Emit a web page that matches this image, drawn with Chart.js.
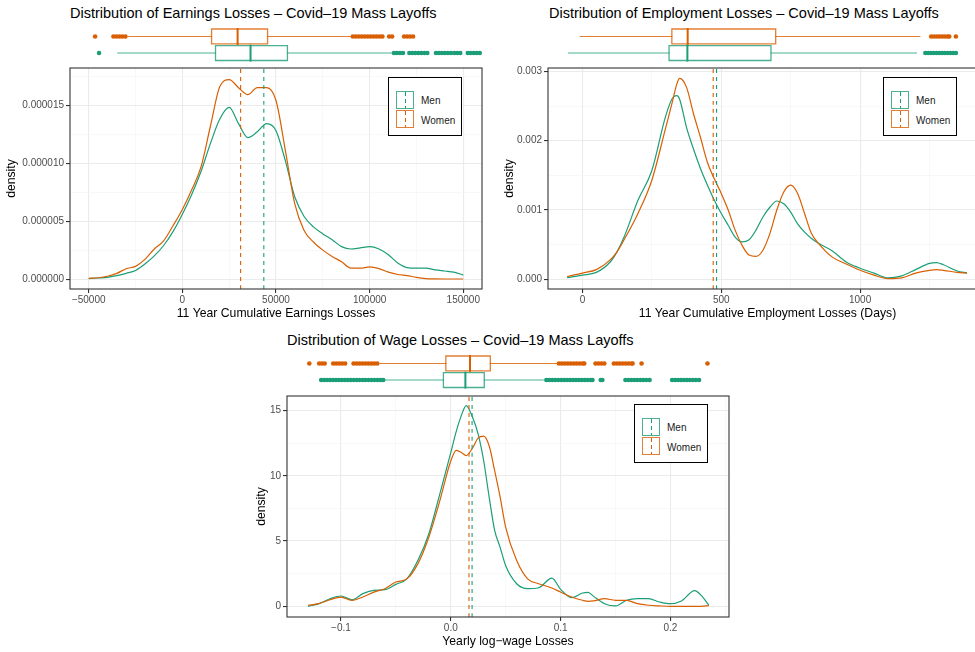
<!DOCTYPE html>
<html>
<head>
<meta charset="utf-8">
<script src="https://cdn.jsdelivr.net/npm/chart.js@4.4.1/dist/chart.umd.min.js"></script>
<style>
html, body { margin: 0; padding: 0; overflow: hidden; background: #fff; }
#page { position: relative; width: 975px; height: 652px; overflow: hidden; font-family: "Liberation Sans", Arial, sans-serif; }
canvas { position: absolute; }
.title { position: absolute; font-size: 14.5px; line-height: 17px; color: #000; white-space: nowrap; }
.legend { position: absolute; box-sizing: border-box; width: 74px; height: 59px; border: 1px solid #000; background: #fff; }
.key { position: absolute; left: 7px; box-sizing: border-box; width: 18px; height: 18px; border: 1px solid; }
.key .dash { position: absolute; left: 7.5px; top: 0; width: 1px; height: 16px; }
.lab { position: absolute; left: 32px; font-size: 10px; line-height: 12px; color: #1a1a1a; }
</style>
</head>
<body>
<div id="page">
  <div class="title" style="left:70px;top:4.5px">Distribution of Earnings Losses – Covid–19 Mass Layoffs</div>
  <div class="title" style="left:549px;top:4.5px">Distribution of Employment Losses – Covid–19 Mass Layoffs</div>
  <div class="title" style="left:287px;top:331.5px">Distribution of Wage Losses – Covid–19 Mass Layoffs</div>

  <canvas id="box1" width="490" height="47" style="left:0px;top:20px"></canvas>
  <canvas id="dens1" width="490" height="262" style="left:0px;top:60px"></canvas>
  <canvas id="box2" width="510" height="47" style="left:490px;top:20px"></canvas>
  <canvas id="dens2" width="510" height="262" style="left:490px;top:60px"></canvas>
  <canvas id="box3" width="490" height="47" style="left:250px;top:347px"></canvas>
  <canvas id="dens3" width="490" height="262" style="left:250px;top:388px"></canvas>

  <div class="legend" style="left:388px;top:77px">
    <div class="key" style="top:13px;border-color:rgba(27,158,119,0.8)"><div class="dash" style="background:repeating-linear-gradient(to bottom,#1B9E77 0 4px,transparent 4px 7px)"></div></div>
    <div class="lab" style="top:16.7px">Men</div>
    <div class="key" style="top:32px;border-color:rgba(217,95,2,0.8)"><div class="dash" style="background:repeating-linear-gradient(to bottom,#D95F02 0 4px,transparent 4px 7px)"></div></div>
    <div class="lab" style="top:36.7px">Women</div>
  </div>
  <div class="legend" style="left:883px;top:77px">
    <div class="key" style="top:13px;border-color:rgba(27,158,119,0.8)"><div class="dash" style="background:repeating-linear-gradient(to bottom,#1B9E77 0 4px,transparent 4px 7px)"></div></div>
    <div class="lab" style="top:16.7px">Men</div>
    <div class="key" style="top:32px;border-color:rgba(217,95,2,0.8)"><div class="dash" style="background:repeating-linear-gradient(to bottom,#D95F02 0 4px,transparent 4px 7px)"></div></div>
    <div class="lab" style="top:36.7px">Women</div>
  </div>
  <div class="legend" style="left:634px;top:404px">
    <div class="key" style="top:13px;border-color:rgba(27,158,119,0.8)"><div class="dash" style="background:repeating-linear-gradient(to bottom,#1B9E77 0 4px,transparent 4px 7px)"></div></div>
    <div class="lab" style="top:16.7px">Men</div>
    <div class="key" style="top:32px;border-color:rgba(217,95,2,0.8)"><div class="dash" style="background:repeating-linear-gradient(to bottom,#D95F02 0 4px,transparent 4px 7px)"></div></div>
    <div class="lab" style="top:36.7px">Women</div>
  </div>
</div>

<script>
// Farver (Dark2)
var GREEN = '#1B9E77', ORANGE = '#D95F02';
var GREEN_A = 'rgba(27,158,119,0.8)', ORANGE_A = 'rgba(217,95,2,0.8)';

// --- Earnings losses ---
var earnX = [-50000, -45000, -40000, -35000, -30000, -25000, -20000, -15000, -10000, -5000, 0, 5000, 10000, 15000, 20000, 25000, 30000, 35000, 40000, 45000, 50000, 55000, 60000, 65000, 70000, 75000, 80000, 85000, 90000, 95000, 100000, 105000, 110000, 115000, 120000, 125000, 130000, 135000, 140000, 145000, 150000];
var earnMen = [0.05e-6, 0.1e-6, 0.15e-6, 0.3e-6, 0.5e-6, 0.75e-6, 1.3e-6, 2.0e-6, 2.9e-6, 4.1e-6, 5.6e-6, 7.3e-6, 9.3e-6, 11.7e-6, 13.8e-6, 14.8e-6, 13.4e-6, 12.2e-6, 12.7e-6, 13.4e-6, 12.8e-6, 10.2e-6, 7.1e-6, 5.4e-6, 4.5e-6, 3.9e-6, 3.4e-6, 2.8e-6, 2.6e-6, 2.7e-6, 2.8e-6, 2.6e-6, 2.1e-6, 1.4e-6, 1.0e-6, 0.95e-6, 0.95e-6, 0.8e-6, 0.7e-6, 0.6e-6, 0.35e-6];
var earnWomen = [0.07e-6, 0.12e-6, 0.25e-6, 0.5e-6, 0.9e-6, 1.1e-6, 1.7e-6, 2.6e-6, 3.3e-6, 4.6e-6, 6.0e-6, 7.7e-6, 9.7e-6, 13.2e-6, 16.6e-6, 17.2e-6, 16.5e-6, 15.9e-6, 16.5e-6, 16.5e-6, 15.4e-6, 11.1e-6, 6.5e-6, 4.2e-6, 3.2e-6, 2.5e-6, 1.95e-6, 1.5e-6, 0.95e-6, 0.95e-6, 1.05e-6, 0.9e-6, 0.6e-6, 0.4e-6, 0.3e-6, 0.15e-6, 0.05e-6, 0.02e-6, 0.01e-6, 0.01e-6, 0.01e-6];
var earnMean = [43500, 31100]; // men, women
var earnBoxMen = [-34500, 17700, 36400, 56100, 112100]; // whisker lo, q1, median, q3, whisker hi
var earnBoxWomen = [-28700, 15600, 29500, 45500, 89700];
var earnOutMen = [-44500, 113000, 114600, 116200, 117800, 121200, 122800, 124400, 126000, 127600, 129200, 130800, 135400, 137000, 138600, 140200, 141800, 143400, 145200, 146800, 148400, 152400, 154000, 155600, 157200, 158800];
var earnOutWomen = [-46600, -36800, -35200, -33600, -32000, -30400, 91000, 92600, 94200, 95800, 97400, 99000, 100600, 102200, 103800, 105400, 106800, 110400, 112000, 118400, 120000, 121600, 123200];
var earnXTicks = [-50000, 0, 50000, 100000, 150000];
var earnXLabels = ['−50000', '0', '50000', '100000', '150000'];
var earnXMinor = [-25000, 25000, 75000, 125000];
var earnYTicks = [0, 5e-6, 10e-6, 15e-6];
var earnYLabels = ['0.000000', '0.000005', '0.000010', '0.000015'];
var earnYMinor = [2.5e-6, 7.5e-6, 12.5e-6, 17.5e-6];

// --- Employment losses ---
var empX = [-55, 0, 50, 100, 125, 150, 200, 250, 300, 325, 340, 350, 375, 400, 425, 450, 475, 500, 525, 550, 575, 600, 625, 650, 675, 700, 725, 750, 775, 800, 825, 850, 900, 950, 1000, 1050, 1100, 1150, 1200, 1250, 1275, 1300, 1350, 1385];
var empMen = [0.024e-3, 0.06e-3, 0.10e-3, 0.25e-3, 0.40e-3, 0.61e-3, 1.14e-3, 1.57e-3, 2.36e-3, 2.62e-3, 2.65e-3, 2.60e-3, 2.19e-3, 1.88e-3, 1.60e-3, 1.36e-3, 1.14e-3, 0.95e-3, 0.78e-3, 0.61e-3, 0.54e-3, 0.57e-3, 0.71e-3, 0.90e-3, 1.04e-3, 1.13e-3, 1.09e-3, 0.97e-3, 0.80e-3, 0.68e-3, 0.59e-3, 0.52e-3, 0.41e-3, 0.25e-3, 0.16e-3, 0.09e-3, 0.02e-3, 0.05e-3, 0.14e-3, 0.23e-3, 0.24e-3, 0.21e-3, 0.12e-3, 0.09e-3];
var empWomen = [0.04e-3, 0.09e-3, 0.14e-3, 0.28e-3, 0.40e-3, 0.57e-3, 0.95e-3, 1.43e-3, 2.19e-3, 2.58e-3, 2.82e-3, 2.90e-3, 2.77e-3, 2.39e-3, 2.05e-3, 1.69e-3, 1.45e-3, 1.24e-3, 1.0e-3, 0.71e-3, 0.49e-3, 0.35e-3, 0.33e-3, 0.42e-3, 0.66e-3, 1.0e-3, 1.26e-3, 1.36e-3, 1.24e-3, 0.95e-3, 0.66e-3, 0.52e-3, 0.32e-3, 0.22e-3, 0.13e-3, 0.06e-3, 0.01e-3, 0.02e-3, 0.09e-3, 0.13e-3, 0.14e-3, 0.13e-3, 0.10e-3, 0.09e-3];
var empMean = [483, 471];
var empBoxMen = [-50, 312, 378, 679, 1203];
var empBoxWomen = [-8, 322, 379, 696, 1215];
var empOutMen = [1235, 1245, 1255, 1265, 1275, 1285, 1295, 1305, 1315, 1325, 1335, 1345];
var empOutWomen = [1256, 1266, 1276, 1286, 1296, 1306, 1316, 1321, 1345];
var empXTicks = [0, 500, 1000];
var empXLabels = ['0', '500', '1000'];
var empXMinor = [250, 750, 1250];
var empYTicks = [0, 0.001, 0.002, 0.003];
var empYLabels = ['0.000', '0.001', '0.002', '0.003'];
var empYMinor = [0.0005, 0.0015, 0.0025];

// --- Wage losses ---
var wageX = [-0.13, -0.12, -0.11, -0.10, -0.09, -0.08, -0.07, -0.06, -0.05, -0.04, -0.03, -0.02, -0.01, 0, 0.005, 0.01, 0.014, 0.02, 0.025, 0.03, 0.035, 0.04, 0.045, 0.05, 0.06, 0.07, 0.08, 0.092, 0.10, 0.11, 0.12, 0.125, 0.13, 0.14, 0.15, 0.16, 0.17, 0.18, 0.19, 0.20, 0.21, 0.222, 0.228, 0.235];
var wageMen = [0, 0.2, 0.58, 0.79, 0.5, 0.97, 1.22, 1.27, 1.68, 2.1, 3.5, 5.54, 8.6, 11.77, 13.4, 14.7, 15.38, 14.44, 13.17, 11.13, 8.34, 5.8, 4.5, 3.1, 1.73, 1.35, 1.42, 2.16, 1.3, 0.66, 1.02, 1.07, 0.76, 0.2, 0.03, 0.46, 0.58, 0.58, 0.33, 0.2, 0.41, 1.2, 0.84, 0.08];
var wageWomen = [0.08, 0.2, 0.5, 0.71, 0.45, 0.71, 1.09, 1.35, 1.86, 2.1, 3.25, 5.29, 8.08, 11.13, 11.95, 11.77, 11.55, 12.15, 12.9, 13.04, 12.28, 10.37, 8.34, 6.05, 3.5, 2.1, 1.73, 1.4, 1.09, 0.71, 0.46, 0.38, 0.41, 0.58, 0.46, 0.46, 0.2, 0.08, 0.03, 0, 0, 0, 0, 0.05];
var wageMean = [0.0194, 0.0166];
var wageBoxMen = [-0.0597, -0.0067, 0.0133, 0.0305, 0.0842];
var wageBoxWomen = [-0.0643, -0.0045, 0.0175, 0.036, 0.0964];
var wageOutMen = [-0.118, -0.1153, -0.1126, -0.1099, -0.1072, -0.1045, -0.1018, -0.0991, -0.0964, -0.0937, -0.091, -0.0883, -0.0856, -0.0829, -0.0802, -0.0775, -0.0748, -0.0721, -0.0694, -0.0667, -0.064, -0.0615,
  0.087, 0.0897, 0.0924, 0.0951, 0.0978, 0.1005, 0.1032, 0.1059, 0.1086, 0.1113, 0.114, 0.1167, 0.1194, 0.1221, 0.1248, 0.1275, 0.129, 0.1365, 0.138,
  0.159, 0.1617, 0.1644, 0.1671, 0.1698, 0.1725, 0.1752, 0.1779, 0.181, 0.2015, 0.2042, 0.2069, 0.2096, 0.2123, 0.215, 0.2177, 0.2204, 0.2231, 0.226];
var wageOutWomen = [-0.1288, -0.1198, -0.1172, -0.1148, -0.107, -0.1043, -0.1016, -0.0989, -0.0962, -0.0885, -0.0858, -0.0831, -0.0804, -0.0777, -0.075, -0.0723, -0.0696, -0.0669,
  0.0985, 0.1012, 0.1039, 0.1066, 0.1093, 0.112, 0.1147, 0.1174, 0.1201, 0.1215, 0.1318, 0.1345, 0.1372, 0.1398,
  0.1485, 0.1512, 0.1539, 0.1566, 0.1593, 0.162, 0.1647, 0.1655, 0.1737, 0.2337];
var wageXTicks = [-0.1, 0, 0.1, 0.2];
var wageXLabels = ['−0.1', '0.0', '0.1', '0.2'];
var wageXMinor = [-0.05, 0.05, 0.15, 0.25];
var wageYTicks = [0, 5, 10, 15];
var wageYLabels = ['0', '5', '10', '15'];
var wageYMinor = [2.5, 7.5, 12.5];

Chart.defaults.font.family = '"Liberation Sans", Arial, sans-serif';

function pts(xs, ys) {
    return xs.map(function (x, i) { return { x: x, y: ys[i] }; });
}

// Egen liste af ticks: hovedticks med tekst, minor ticks kun som gitter
function ticksFrom(majors, labels, minors) {
    return function (scale) {
        var t = majors.map(function (v, i) { return { value: v, text: labels[i] }; })
            .concat(minors.map(function (v) { return { value: v, text: '', minor: true }; }));
        t.sort(function (a, b) { return a.value - b.value; });
        scale.ticks = t;
    };
}

function isMinor(c) { return c.tick && c.tick.minor; }

function axis(min, max, majors, labels, minors, title, size, titlePad, tickPad) {
    return {
        type: 'linear',
        min: min,
        max: max,
        afterBuildTicks: ticksFrom(majors, labels, minors),
        afterFit: function (s) { if (s.isHorizontal()) s.height = size; else s.width = size; },
        border: { display: false },
        grid: {
            color: function (c) { return isMinor(c) ? '#F3F3F3' : '#EBEBEB'; },
            lineWidth: function (c) { return isMinor(c) ? 0.6 : 1.1; },
            tickColor: function (c) { return isMinor(c) ? 'rgba(0,0,0,0)' : '#333333'; },
            tickLength: 4,
            tickWidth: 1.1
        },
        ticks: {
            autoSkip: false,
            maxRotation: 0,
            padding: tickPad,
            color: '#4D4D4D',
            font: { size: 10 },
            callback: function (v, i, t) { return t[i].text; }
        },
        title: { display: true, text: title, color: '#000', font: { size: 12.2 }, padding: titlePad }
    };
}

// Ramme om plotomraadet (theme_bw)
var frame = {
    id: 'frame',
    afterDraw: function (chart) {
        var a = chart.chartArea, g = chart.ctx;
        g.save();
        g.strokeStyle = '#333333';
        g.lineWidth = 1.1;
        g.strokeRect(a.left, a.top, a.right - a.left, a.bottom - a.top);
        g.restore();
    }
};

function densityChart(id, p) {
    var line = function (data, col, dash) {
        return {
            data: data, showLine: true, borderColor: col, borderWidth: dash ? 1.1 : 1.2,
            borderDash: dash ? [4, 4] : [], pointRadius: 0, cubicInterpolationMode: 'monotone', fill: false
        };
    };
    new Chart(document.getElementById(id), {
        type: 'scatter',
        data: {
            datasets: [
                line([{ x: p.mean[1], y: p.ymin }, { x: p.mean[1], y: p.ymax }], ORANGE, true),
                line([{ x: p.mean[0], y: p.ymin }, { x: p.mean[0], y: p.ymax }], GREEN, true),
                line(pts(p.xs, p.women), ORANGE, false),
                line(pts(p.xs, p.men), GREEN, false)
            ]
        },
        options: {
            responsive: false,
            animation: false,
            devicePixelRatio: 1,
            layout: { padding: { left: 0, right: p.padR, top: 7, bottom: 0 } },
            plugins: { legend: { display: false }, tooltip: { enabled: false } },
            scales: {
                x: axis(p.xmin, p.xmax, p.xt, p.xl, p.xm, p.xtitle, 33, { top: 0, bottom: 1 }, 1),
                y: axis(p.ymin, p.ymax, p.yt, p.yl, p.ym, 'density', p.yw, { top: p.ytp, bottom: 0 }, 2)
            }
        },
        plugins: [frame]
    });
}

function boxSets(stats, out, row, col, colA) {
    var h = 0.45;
    var seg = function (data, c, w) {
        return { data: data, showLine: true, borderColor: c, borderWidth: w, pointRadius: 0,
            borderCapStyle: 'square', borderJoinStyle: 'miter', clip: false };
    };
    return [
        seg([{ x: stats[2], y: row - h }, { x: stats[2], y: row + h }], col, 2),
        seg([{ x: stats[1], y: row - h }, { x: stats[3], y: row - h }, { x: stats[3], y: row + h }, { x: stats[1], y: row + h }, { x: stats[1], y: row - h }], colA, 1.3),
        seg([{ x: stats[0], y: row }, { x: stats[1], y: row }], colA, 1.1),
        seg([{ x: stats[3], y: row }, { x: stats[4], y: row }], colA, 1.1),
        { data: out.map(function (v) { return { x: v, y: row }; }), pointRadius: 2.3,
          pointBackgroundColor: col, pointBorderWidth: 0, clip: false }
    ];
}

function boxChart(id, p) {
    new Chart(document.getElementById(id), {
        type: 'scatter',
        data: {
            datasets: boxSets(p.women, p.womenOut, 2, ORANGE, ORANGE_A)
                .concat(boxSets(p.men, p.menOut, 1, GREEN, GREEN_A))
        },
        options: {
            responsive: false,
            animation: false,
            devicePixelRatio: 1,
            layout: { padding: { left: p.padL, right: p.padR, top: 0, bottom: 0 } },
            plugins: { legend: { display: false }, tooltip: { enabled: false } },
            scales: {
                x: { type: 'linear', display: false, min: p.xmin, max: p.xmax },
                y: { type: 'linear', display: false, min: 0.4, max: 2.75 }
            }
        }
    });
}

// Panel 1
boxChart('box1', { men: earnBoxMen, menOut: earnOutMen, women: earnBoxWomen, womenOut: earnOutWomen,
    xmin: -60000, xmax: 160000, padL: 70, padR: 8 });
densityChart('dens1', { xs: earnX, men: earnMen, women: earnWomen, mean: earnMean,
    xmin: -60000, xmax: 160000, ymin: -0.85e-6, ymax: 18.2e-6,
    xt: earnXTicks, xl: earnXLabels, xm: earnXMinor, yt: earnYTicks, yl: earnYLabels, ym: earnYMinor,
    xtitle: '11 Year Cumulative Earnings Losses', yw: 70, ytp: 4, padR: 8 });

// Panel 2
boxChart('box2', { men: empBoxMen, menOut: empOutMen, women: empBoxWomen, womenOut: empOutWomen,
    xmin: -124, xmax: 1457, padL: 58, padR: 13 });
densityChart('dens2', { xs: empX, men: empMen, women: empWomen, mean: empMean,
    xmin: -124, xmax: 1457, ymin: -0.00014, ymax: 0.00305,
    xt: empXTicks, xl: empXLabels, xm: empXMinor, yt: empYTicks, yl: empYLabels, ym: empYMinor,
    xtitle: '11 Year Cumulative Employment Losses (Days)', yw: 58, ytp: 12, padR: 13 });

// Panel 3
boxChart('box3', { men: wageBoxMen, menOut: wageOutMen, women: wageBoxWomen, womenOut: wageOutWomen,
    xmin: -0.1491, xmax: 0.2533, padL: 37, padR: 11 });
densityChart('dens3', { xs: wageX, men: wageMen, women: wageWomen, mean: wageMean,
    xmin: -0.1491, xmax: 0.2533, ymin: -0.82, ymax: 16.11,
    xt: wageXTicks, xl: wageXLabels, xm: wageXMinor, yt: wageYTicks, yl: wageYLabels, ym: wageYMinor,
    xtitle: 'Yearly log−wage Losses', yw: 37, ytp: 4, padR: 11 });
</script>
</body>
</html>
